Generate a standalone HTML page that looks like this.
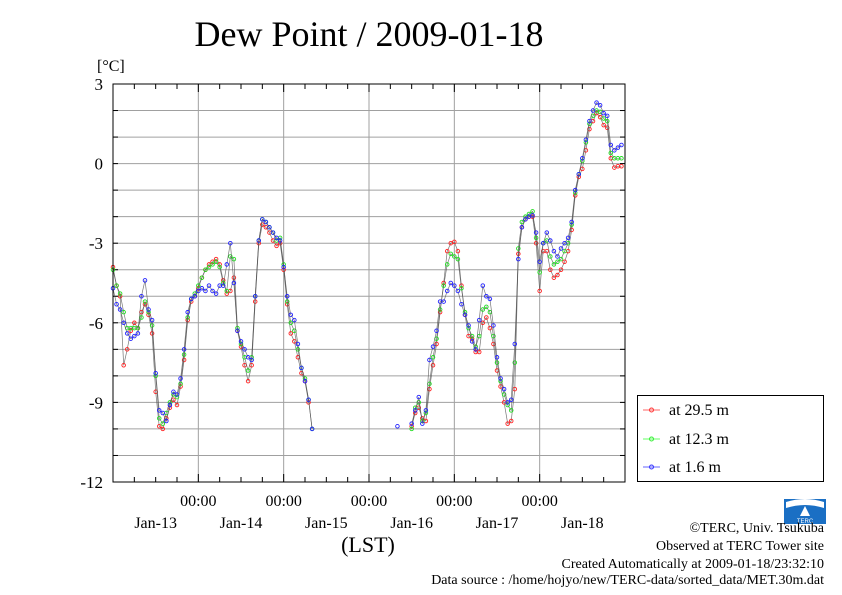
<!DOCTYPE html>
<html><head><meta charset="utf-8"><style>
html,body{margin:0;padding:0;background:#fff;}
svg{display:block;font-family:"Liberation Serif",serif;}
</style></head><body>
<svg id="chart" width="842" height="595" viewBox="0 0 842 595" xmlns="http://www.w3.org/2000/svg">
<text x="369" y="46" font-size="36" text-anchor="middle">Dew Point / 2009-01-18</text>
<text x="97" y="71" font-size="16">[°C]</text>
<g id="grid"></g>
<g id="axes"></g>
<g id="series"></g>
<rect x="113" y="84" width="512" height="398" fill="none" stroke="#000" stroke-width="1"/>
<text x="368" y="552" font-size="22" text-anchor="middle">(LST)</text>
<g>
<rect x="637.5" y="395.5" width="186" height="86" fill="#fff" stroke="#000"/>
<g><line x1="643" y1="410" x2="660" y2="410" stroke="#f66" stroke-width="1"/><circle cx="651.5" cy="410" r="2" fill="none" stroke="#f33"/><text x="669" y="415" font-size="16">at 29.5 m</text></g>
<g><line x1="643" y1="439" x2="660" y2="439" stroke="#6f6" stroke-width="1"/><circle cx="651.5" cy="439" r="2" fill="none" stroke="#3e3"/><text x="669" y="444" font-size="16">at 12.3 m</text></g>
<g><line x1="643" y1="467" x2="660" y2="467" stroke="#66f" stroke-width="1"/><circle cx="651.5" cy="467" r="2" fill="none" stroke="#33f"/><text x="669" y="472" font-size="16">at 1.6 m</text></g>
</g>
<g>
<rect x="784" y="499" width="42" height="25" fill="#1a6fc4"/>
<path d="M786 502 Q805 496 824 502 L824 508 Q805 502 786 508 Z" fill="#fff"/>
<path d="M805 506 L800 516 L810 516 Z" fill="#fff"/>
<text x="805" y="523" font-size="6" fill="#fff" text-anchor="middle" font-family="Liberation Sans, sans-serif">TERC</text>
</g>
<g font-size="14" text-anchor="end">
<text x="824" y="532">©TERC, Univ. Tsukuba</text>
<text x="824" y="550">Observed at TERC Tower site</text>
<text x="824" y="568">Created Automatically at 2009-01-18/23:32:10</text>
<text x="824" y="584">Data source : /home/hojyo/new/TERC-data/sorted_data/MET.30m.dat</text>
</g>
</svg>
<script>
const yTicks=[3,0,-3,-6,-9,-12];
const dayLabels=["Jan-13","Jan-14","Jan-15","Jan-16","Jan-17","Jan-18"];
const midnightLabel="00:00";
const seriesNames=["at 29.5 m","at 12.3 m","at 1.6 m"];
const N=null;
const red=[-3.9,-4.6,-5.0,-7.6,-7.0,-6.3,-6.0,-6.2,-5.6,-5.3,-5.7,-6.4,-8.6,-9.9,-10.0,-9.6,-9.2,-8.9,-9.1,-8.4,-7.4,-5.9,-5.2,-5.0,
-4.7,-4.3,-4.0,-3.8,-3.7,-3.6,-3.8,-4.4,-4.9,-4.8,-4.3,-6.3,-6.9,-7.6,-8.2,-7.6,-5.2,-3.0,-2.3,-2.4,-2.6,-2.9,-3.1,-3.0,
-4.0,-5.3,-6.4,-6.7,-7.3,-7.9,-8.2,-9.0,N,N,N,N,N,N,N,N,N,N,N,N,N,N,N,N,
N,N,N,N,N,N,N,N,N,N,N,N,-9.9,-9.4,-9.2,-9.6,-9.7,-8.5,-7.6,-6.8,-5.6,-4.5,-3.3,-3.0,
-2.95,-3.3,-4.6,-5.7,-6.5,-6.6,-7.1,-7.1,-6.0,-5.8,-6.2,-6.8,-7.8,-8.4,-9.0,-9.8,-9.7,-8.5,-3.4,-2.4,-2.1,-2.0,-2.0,-3.0,
-4.8,-3.3,-3.3,-4.0,-4.3,-4.2,-4.0,-3.7,-3.3,-2.5,-1.2,-0.5,-0.2,0.5,1.3,1.6,1.9,1.75,1.45,1.35,0.2,-0.15,-0.1,-0.1];
const green=[-4.0,-4.6,-4.9,-5.6,-6.2,-6.2,-6.2,-6.2,-5.8,-5.2,-5.6,-6.1,-8.0,-9.6,-9.8,-9.4,-9.0,-8.7,-8.8,-8.3,-7.2,-5.8,-5.1,-4.9,
-4.6,-4.3,-4.0,-3.9,-3.8,-3.7,-3.9,-4.5,-4.8,-3.5,-3.6,-6.2,-6.8,-7.3,-7.8,-7.3,-5.0,-2.9,-2.1,-2.2,-2.4,-2.6,-2.9,-2.8,
-3.8,-5.2,-6.0,-6.3,-7.0,-7.7,-8.1,-8.9,-10.0,N,N,N,N,N,N,N,N,N,N,N,N,N,N,N,
N,N,N,N,N,N,N,N,N,N,N,N,-10.0,-9.2,-9.0,-9.7,-9.4,-8.3,-7.3,-6.6,-5.5,-4.6,-3.8,-3.4,
-3.5,-3.6,-4.7,-5.6,-6.2,-6.5,-6.9,-6.5,-5.5,-5.4,-5.6,-6.5,-7.5,-8.2,-8.7,-9.1,-9.3,-7.5,-3.2,-2.2,-2.0,-1.9,-1.8,-2.8,
-4.1,-3.0,-2.9,-3.5,-3.8,-3.7,-3.6,-3.3,-3.0,-2.3,-1.1,-0.4,0.1,0.8,1.5,1.8,2.0,1.95,1.7,1.6,0.4,0.2,0.2,0.2];
const blue=[-4.7,-5.3,-5.5,-6.0,-6.4,-6.6,-6.5,-6.4,-5.0,-4.4,-5.5,-5.9,-7.9,-9.3,-9.4,-9.7,-9.1,-8.6,-8.7,-8.1,-7.0,-5.6,-5.1,-5.0,
-4.8,-4.7,-4.8,-4.6,-4.8,-4.9,-4.6,-4.6,-3.8,-3.0,-4.5,-6.3,-6.7,-7.0,-7.3,-7.4,-5.0,-2.9,-2.1,-2.2,-2.4,-2.6,-2.8,-2.9,
-3.9,-5.0,-5.7,-5.9,-6.8,-7.7,-8.2,-8.9,-10.0,N,N,N,N,N,N,N,N,N,N,N,N,N,N,N,
N,N,N,N,N,N,N,N,-9.9,N,N,N,-9.8,-9.3,-8.8,-9.8,-9.3,-7.4,-6.9,-6.3,-5.2,-5.2,-4.8,-4.5,
-4.6,-4.8,-5.3,-5.7,-6.1,-6.7,-7.0,-5.9,-4.6,-5.0,-5.1,-6.1,-7.3,-8.1,-8.5,-9.0,-8.9,-6.8,-3.6,-2.4,-2.1,-2.0,-1.95,-2.6,
-3.7,-3.0,-2.6,-2.9,-3.3,-3.5,-3.2,-3.0,-2.8,-2.2,-1.0,-0.4,0.2,0.9,1.6,2.0,2.3,2.2,1.9,1.8,0.7,0.5,0.6,0.7];

const X0=113,X1=625,Y0=84,Y1=482,T0=0,T1=144,V0=-12,V1=3;
const xs=t=>X0+(t-T0)*(X1-X0)/(T1-T0);
const ys=v=>Y1-(v-V0)*(Y1-Y0)/(V1-V0);
const NS="http://www.w3.org/2000/svg";
function mk(tag,attrs,parent){const e=document.createElementNS(NS,tag);for(const k in attrs)e.setAttribute(k,attrs[k]);parent.appendChild(e);return e;}
const grid=document.getElementById('grid'),axes=document.getElementById('axes'),ser=document.getElementById('series');
for(let v=V0+1;v<V1;v++){
  const l=mk('line',{x1:X0,x2:X1,y1:ys(v),y2:ys(v),stroke:'#a0a0a0','stroke-width':1},grid);
  
  
  for(const [a,b] of [[X0,X0+5],[X1-5,X1]]){const tk=mk('line',{x1:a,x2:b,y1:ys(v),y2:ys(v),stroke:'#000'},axes);
  
  }
}
for(let d=1;d<6;d++){
  const x=xs(d*24);
  const l=mk('line',{x1:x,x2:x,y1:Y0,y2:Y1,stroke:'#a0a0a0','stroke-width':1},grid);
  
  
}
for(let h=6;h<T1;h+=6){
  const x=xs(h),len=(h%24===0)?8:5;
  for(const [a,b] of [[Y0,Y0+len],[Y1-len,Y1]]){const tk=mk('line',{x1:x,x2:x,y1:a,y2:b,stroke:'#000'},axes);
  
  }
}
yTicks.forEach(v=>{
  const t=mk('text',{x:103,y:ys(v)+6,'font-size':17,'text-anchor':'end'},axes);
  t.textContent=v;
  
  
});
for(let d=1;d<6;d++){
  const t=mk('text',{x:xs(d*24),y:506,'font-size':16,'text-anchor':'middle'},axes);
  t.textContent=midnightLabel;
  
  
}
dayLabels.forEach((s,i)=>{
  const t=mk('text',{x:xs(i*24+12),y:528,'font-size':16,'text-anchor':'middle'},axes);
  t.textContent=s;
  
  
});
const cols=[['#f55','#f22'],['#5e5','#2d2'],['#55f','#22f']];
const names=['series-29-5m','series-12-3m','series-1-6m'];
[red,green,blue].forEach((arr,si)=>{
  const g=mk('g',{},ser);
  
  
  let d='',pen=false;
  arr.forEach((v,i)=>{if(v===null){pen=false;return;}d+=(pen?'L':'M')+xs(i).toFixed(1)+' '+ys(v).toFixed(1);pen=true;});
  const p=mk('path',{d:d,fill:'none',stroke:'#555','stroke-width':0.7,'stroke-opacity':0.8},g);
  
  
  arr.forEach((v,i)=>{if(v===null)return;
    const c=mk('circle',{cx:xs(i),cy:ys(v),r:1.8,fill:'none',stroke:cols[si][1],'stroke-width':0.9},g);
    
    
  });
});
</script>
</body></html>
